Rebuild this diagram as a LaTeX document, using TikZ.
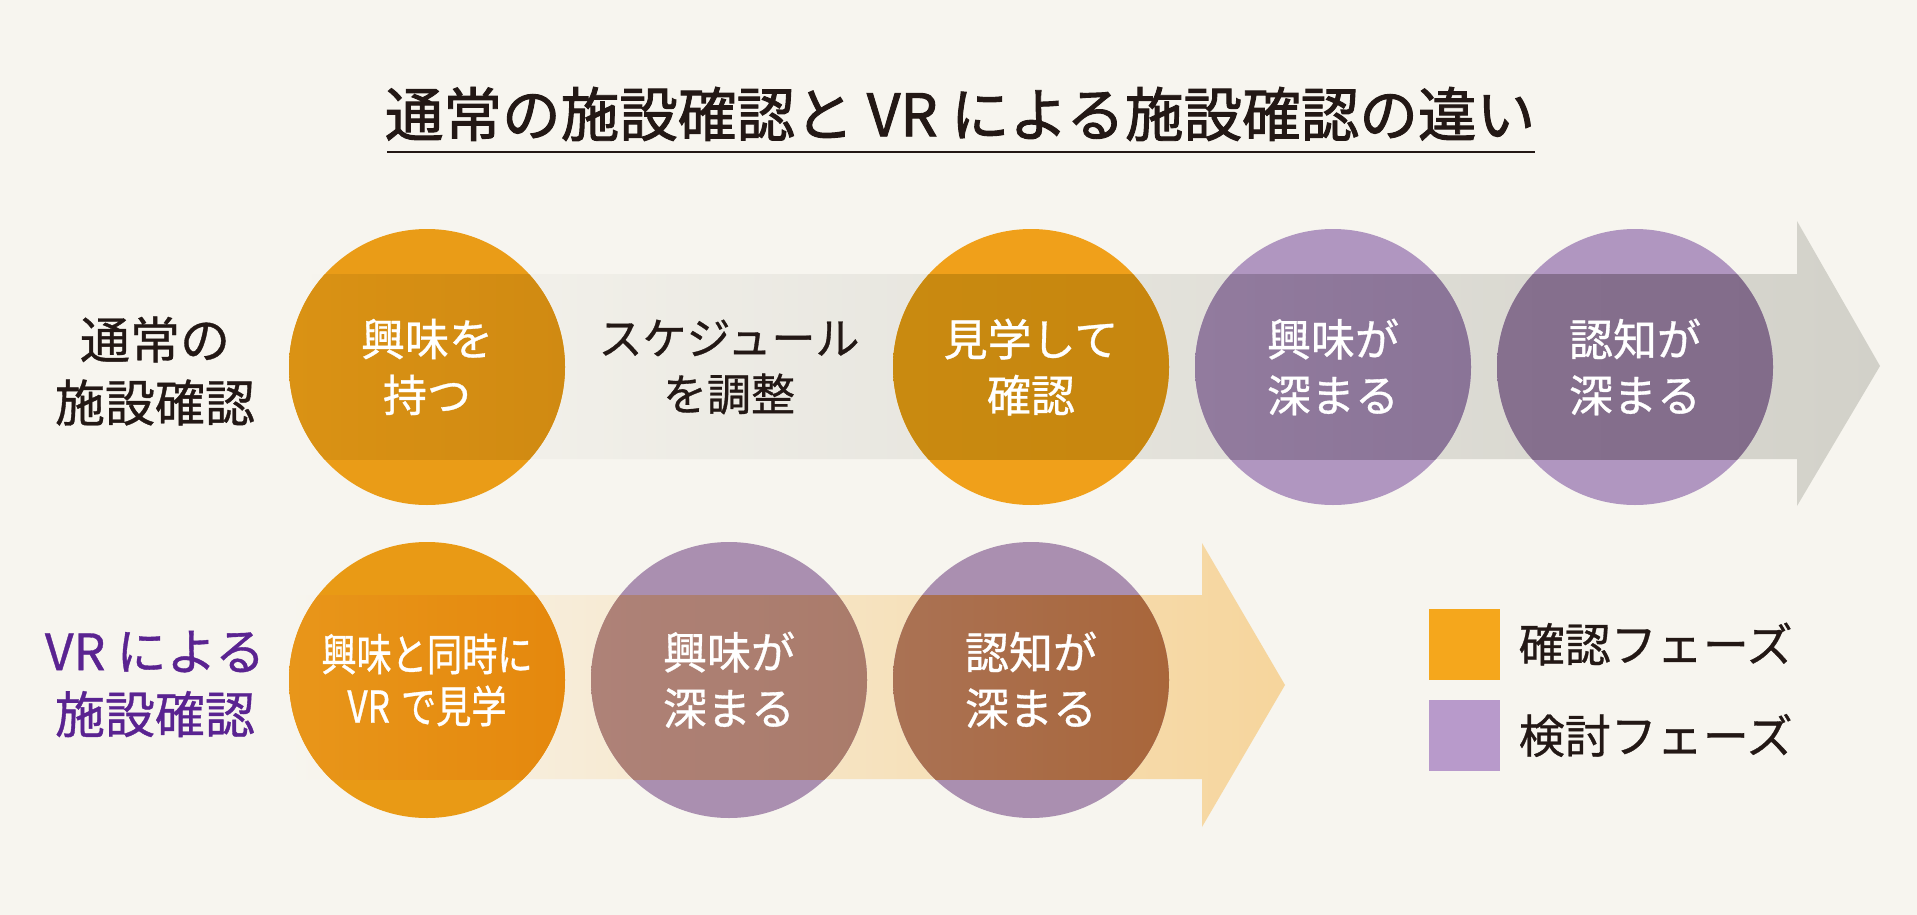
\documentclass[tikz,border=0pt]{standalone}
\usepackage{fontspec}
\setmainfont{Noto Sans CJK JP}[FakeBold=0.7]
\newfontfamily\titlefont[FakeBold=1.6]{Noto Sans CJK JP}
\newfontfamily\narrowfont[FakeStretch=0.8, FakeBold=0.7]{Noto Sans CJK JP}
\usetikzlibrary{positioning,calc}

\definecolor{bgcol}{HTML}{F7F5EF}
\definecolor{ink}{HTML}{231815}
\definecolor{vrpurple}{HTML}{5A2391}
\definecolor{grayband}{HTML}{D2D1C9}
\definecolor{orangeband}{HTML}{F6D59C}
\definecolor{keyorange}{HTML}{F5A71C}
\definecolor{keypurple}{HTML}{B89ACB}
% circle colours: outside the band, then inside it (left, right)
\definecolor{oraA}{HTML}{EA9C17}\definecolor{oraAl}{HTML}{DA9214}\definecolor{oraAr}{HTML}{D08A12}
\definecolor{oraB}{HTML}{F0A01A}\definecolor{oraBl}{HTML}{C98A10}\definecolor{oraBr}{HTML}{C7860F}
\definecolor{purA}{HTML}{B096C0}\definecolor{purAl}{HTML}{927B9E}\definecolor{purAr}{HTML}{8A7497}
\definecolor{purBl}{HTML}{86708E}\definecolor{purBr}{HTML}{826C8A}
\definecolor{oraC}{HTML}{E99A15}\definecolor{oraCl}{HTML}{E8961A}\definecolor{oraCr}{HTML}{E5880D}
\definecolor{purC}{HTML}{AA8FB0}\definecolor{purCl}{HTML}{AE8278}\definecolor{purCr}{HTML}{AA7B6A}
\definecolor{purDl}{HTML}{AA7254}\definecolor{purDr}{HTML}{A9663A}

\tikzset{
  phase/.style={circle, inner sep=0pt, minimum size=138pt, text=white,
    align=center, font=\fontsize{22}{28}\selectfont},
  inband/.style n args={4}{path picture={
    \shade[left color=#1, right color=#2]
      (path picture bounding box.west |- #3) rectangle
      (path picture bounding box.east |- #4);}},
  sidelabel/.style={align=center, font=\fontsize{25}{31.5}\selectfont},
  legendbox/.style={minimum size=35.5pt, inner sep=0pt},
  legendtext/.style={inner sep=0pt, text=ink, font=\fontsize{23}{28}\selectfont},
}

\begin{document}
\begin{tikzpicture}[x=0.5pt, y=-0.5pt]
  \fill[bgcol] (0,0) rectangle (1917,915);
  \useasboundingbox (0,0) rectangle (1917,915);

  % title
  \node[text=ink, font=\titlefont\fontsize{29.3}{34}\selectfont] (title) at (960,114)
    {通常の施設確認と VR による施設確認の違い};
  \draw[ink, line width=1pt] (387,152) -- (1535,152);

  % band edges
  \coordinate (topA) at (0,274);
  \coordinate (botA) at (0,459);
  \coordinate (topB) at (0,595);
  \coordinate (botB) at (0,779);

  % arrows
  \shade[left color=bgcol, right color=grayband]
    (290,274) -- (1797,274) -- (1797,221) -- (1880,366)
    -- (1797,506) -- (1797,459) -- (290,459) -- cycle;
  \shade[left color=bgcol, right color=orangeband]
    (290,595) -- (1202,595) -- (1202,543) -- (1285,685)
    -- (1202,827) -- (1202,779) -- (290,779) -- cycle;

  % usual visit
  \node[sidelabel, text=ink] (usual) at (155,371) {通常の\\施設確認};
  \node[phase, fill=oraA, inband={oraAl}{oraAr}{topA}{botA}]
    (interest) at (427,367) {興味を\\持つ};
  \node[text=ink, align=center, font=\fontsize{22}{28}\selectfont]
    (schedule) at (729,367) {スケジュール\\を調整};
  \node[phase, fill=oraB, inband={oraBl}{oraBr}{topA}{botA}]
    (visit) at (1031,367) {見学して\\確認};
  \node[phase, fill=purA, inband={purAl}{purAr}{topA}{botA}]
    (deepenA) at (1333,367) {興味が\\深まる};
  \node[phase, fill=purA, inband={purBl}{purBr}{topA}{botA}]
    (knowA) at (1635,367) {認知が\\深まる};

  % vr visit
  \node[sidelabel, text=vrpurple] (vr) at (155,684) {VR による\\施設確認};
  \node[phase, fill=oraC, inband={oraCl}{oraCr}{topB}{botB},
    font=\narrowfont\fontsize{22}{26}\selectfont]
    (vrvisit) at (427,680) {興味と同時に\\VR\hspace{0.25em}で見学};
  \node[phase, fill=purC, inband={purCl}{purCr}{topB}{botB}]
    (deepenB) at (729,680) {興味が\\深まる};
  \node[phase, fill=purC, inband={purDl}{purDr}{topB}{botB}]
    (knowB) at (1031,680) {認知が\\深まる};

  % legend
  \node[legendbox, fill=keyorange] (keyA) at (1464.5,644) {};
  \node[legendbox, fill=keypurple] (keyB) at (1464.5,735.5) {};
  \node[legendtext, right=9pt of keyA] (keyAtext) {確認フェーズ};
  \node[legendtext, right=9pt of keyB] (keyBtext) {検討フェーズ};
\end{tikzpicture}
\end{document}
